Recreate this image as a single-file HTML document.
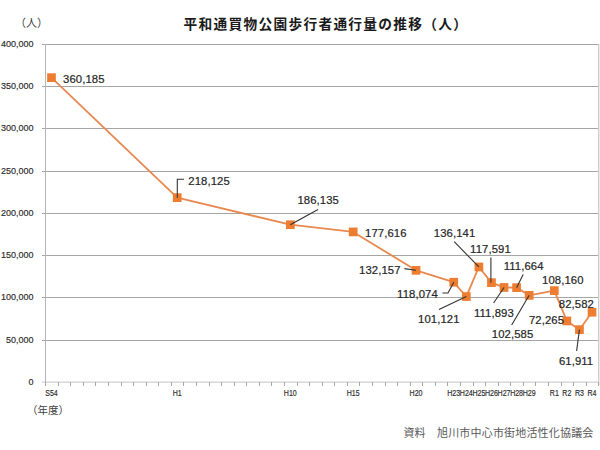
<!DOCTYPE html>
<html><head><meta charset="utf-8"><style>
html,body{margin:0;padding:0;background:#fff;}
body{width:600px;height:450px;overflow:hidden;position:relative;}
svg{position:absolute;left:0;top:0;}
.ln{fill:none;stroke:#E8884F;stroke-width:1.8;stroke-linejoin:round;}
.ld{fill:none;stroke:#333;stroke-width:1.1;}
.mk{fill:#ED7D31;}
text{font-family:"Liberation Sans","Noto Sans CJK JP",sans-serif;}
.yl{font-size:9px;fill:#2a2a2a;stroke:#2a2a2a;stroke-width:0.15px;text-anchor:end;}
.xl{font-size:8.2px;fill:#2a2a2a;stroke:#2a2a2a;stroke-width:0.15px;text-anchor:middle;}
.dl{font-size:11.3px;letter-spacing:0.1px;fill:#262626;stroke:#262626;stroke-width:0.2px;}
.t{position:absolute;white-space:nowrap;font-family:"Liberation Sans","Noto Sans CJK JP",sans-serif;}
#title{left:183.5px;top:13px;font-size:13.7px;font-weight:bold;color:#1a1a1a;letter-spacing:1.3px;}
#unit{left:15px;top:14px;font-size:11px;color:#404040;}
#nendo{left:27px;top:402px;font-size:10.5px;color:#404040;}
#src{left:403.5px;top:424px;font-size:11px;color:#595959;}
#src2{left:437px;top:424px;font-size:11px;letter-spacing:0.18px;color:#595959;}
</style></head><body>
<svg width="600" height="450" viewBox="0 0 600 450">
<rect x="42" y="44" width="557" height="1" fill="#a6a6a6"/>
<rect x="42" y="86" width="557" height="1" fill="#a6a6a6"/>
<rect x="42" y="128" width="557" height="1" fill="#a6a6a6"/>
<rect x="42" y="171" width="557" height="1" fill="#a6a6a6"/>
<rect x="42" y="213" width="557" height="1" fill="#a6a6a6"/>
<rect x="42" y="255" width="557" height="1" fill="#a6a6a6"/>
<rect x="42" y="297" width="557" height="1" fill="#a6a6a6"/>
<rect x="42" y="340" width="557" height="1" fill="#a6a6a6"/>
<rect x="42" y="381.6" width="557" height="1" fill="#c4c4c4"/>
<rect x="598" y="44" width="1" height="341" fill="#cccccc"/>
<rect x="599" y="44" width="1" height="341" fill="#ebebeb"/>
<rect x="45" y="44" width="1" height="339" fill="#b5b5b5"/>
<rect x="45" y="382" width="1" height="4" fill="#a8a8a8"/>
<rect x="58" y="382" width="1" height="4" fill="#a8a8a8"/>
<rect x="70" y="382" width="1" height="4" fill="#a8a8a8"/>
<rect x="83" y="382" width="1" height="4" fill="#a8a8a8"/>
<rect x="95" y="382" width="1" height="4" fill="#a8a8a8"/>
<rect x="108" y="382" width="1" height="4" fill="#a8a8a8"/>
<rect x="121" y="382" width="1" height="4" fill="#a8a8a8"/>
<rect x="133" y="382" width="1" height="4" fill="#a8a8a8"/>
<rect x="146" y="382" width="1" height="4" fill="#a8a8a8"/>
<rect x="158" y="382" width="1" height="4" fill="#a8a8a8"/>
<rect x="171" y="382" width="1" height="4" fill="#a8a8a8"/>
<rect x="183" y="382" width="1" height="4" fill="#a8a8a8"/>
<rect x="196" y="382" width="1" height="4" fill="#a8a8a8"/>
<rect x="209" y="382" width="1" height="4" fill="#a8a8a8"/>
<rect x="221" y="382" width="1" height="4" fill="#a8a8a8"/>
<rect x="234" y="382" width="1" height="4" fill="#a8a8a8"/>
<rect x="246" y="382" width="1" height="4" fill="#a8a8a8"/>
<rect x="259" y="382" width="1" height="4" fill="#a8a8a8"/>
<rect x="271" y="382" width="1" height="4" fill="#a8a8a8"/>
<rect x="284" y="382" width="1" height="4" fill="#a8a8a8"/>
<rect x="297" y="382" width="1" height="4" fill="#a8a8a8"/>
<rect x="309" y="382" width="1" height="4" fill="#a8a8a8"/>
<rect x="322" y="382" width="1" height="4" fill="#a8a8a8"/>
<rect x="334" y="382" width="1" height="4" fill="#a8a8a8"/>
<rect x="347" y="382" width="1" height="4" fill="#a8a8a8"/>
<rect x="359" y="382" width="1" height="4" fill="#a8a8a8"/>
<rect x="372" y="382" width="1" height="4" fill="#a8a8a8"/>
<rect x="385" y="382" width="1" height="4" fill="#a8a8a8"/>
<rect x="397" y="382" width="1" height="4" fill="#a8a8a8"/>
<rect x="410" y="382" width="1" height="4" fill="#a8a8a8"/>
<rect x="422" y="382" width="1" height="4" fill="#a8a8a8"/>
<rect x="435" y="382" width="1" height="4" fill="#a8a8a8"/>
<rect x="447" y="382" width="1" height="4" fill="#a8a8a8"/>
<rect x="460" y="382" width="1" height="4" fill="#a8a8a8"/>
<rect x="473" y="382" width="1" height="4" fill="#a8a8a8"/>
<rect x="485" y="382" width="1" height="4" fill="#a8a8a8"/>
<rect x="498" y="382" width="1" height="4" fill="#a8a8a8"/>
<rect x="510" y="382" width="1" height="4" fill="#a8a8a8"/>
<rect x="523" y="382" width="1" height="4" fill="#a8a8a8"/>
<rect x="535" y="382" width="1" height="4" fill="#a8a8a8"/>
<rect x="548" y="382" width="1" height="4" fill="#a8a8a8"/>
<rect x="561" y="382" width="1" height="4" fill="#a8a8a8"/>
<rect x="573" y="382" width="1" height="4" fill="#a8a8a8"/>
<rect x="586" y="382" width="1" height="4" fill="#a8a8a8"/>
<rect x="598" y="382" width="1" height="4" fill="#a8a8a8"/>
<text x="33.6" y="47.10" class="yl">400,000</text>
<text x="33.6" y="89.10" class="yl">350,000</text>
<text x="33.6" y="131.10" class="yl">300,000</text>
<text x="33.6" y="174.10" class="yl">250,000</text>
<text x="33.6" y="216.10" class="yl">200,000</text>
<text x="33.6" y="258.10" class="yl">150,000</text>
<text x="33.6" y="300.10" class="yl">100,000</text>
<text x="33.6" y="343.10" class="yl">50,000</text>
<text x="33.6" y="385.10" class="yl">0</text>
<text transform="translate(51.49,396.2) scale(0.86,1)" class="xl">S54</text>
<text transform="translate(177.19,396.2) scale(0.86,1)" class="xl">H1</text>
<text transform="translate(290.32,396.2) scale(0.86,1)" class="xl">H10</text>
<text transform="translate(353.18,396.2) scale(0.86,1)" class="xl">H15</text>
<text transform="translate(416.03,396.2) scale(0.86,1)" class="xl">H20</text>
<text transform="translate(453.74,396.2) scale(0.86,1)" class="xl">H23</text>
<text transform="translate(466.31,396.2) scale(0.86,1)" class="xl">H24</text>
<text transform="translate(478.88,396.2) scale(0.86,1)" class="xl">H25</text>
<text transform="translate(491.45,396.2) scale(0.86,1)" class="xl">H26</text>
<text transform="translate(504.02,396.2) scale(0.86,1)" class="xl">H27</text>
<text transform="translate(516.59,396.2) scale(0.86,1)" class="xl">H28</text>
<text transform="translate(529.16,396.2) scale(0.86,1)" class="xl">H29</text>
<text transform="translate(554.30,396.2) scale(0.86,1)" class="xl">R1</text>
<text transform="translate(566.87,396.2) scale(0.86,1)" class="xl">R2</text>
<text transform="translate(579.44,396.2) scale(0.86,1)" class="xl">R3</text>
<text transform="translate(592.01,396.2) scale(0.86,1)" class="xl">R4</text>
<polyline points="51.49,77.64 177.19,197.68 290.32,224.72 353.18,231.91 416.03,270.33 453.74,282.23 466.31,296.55 478.88,266.96 491.45,282.64 504.02,287.45 516.59,287.64 529.16,295.32 554.30,290.60 566.87,320.94 579.44,329.69 592.01,312.22" class="ln"/>
<rect x="47.14" y="73.29" width="8.7" height="8.7" class="mk"/>
<rect x="172.84" y="193.33" width="8.7" height="8.7" class="mk"/>
<rect x="285.97" y="220.37" width="8.7" height="8.7" class="mk"/>
<rect x="348.83" y="227.56" width="8.7" height="8.7" class="mk"/>
<rect x="411.68" y="265.98" width="8.7" height="8.7" class="mk"/>
<rect x="449.39" y="277.88" width="8.7" height="8.7" class="mk"/>
<rect x="461.96" y="292.20" width="8.7" height="8.7" class="mk"/>
<rect x="474.53" y="262.61" width="8.7" height="8.7" class="mk"/>
<rect x="487.10" y="278.29" width="8.7" height="8.7" class="mk"/>
<rect x="499.67" y="283.10" width="8.7" height="8.7" class="mk"/>
<rect x="512.24" y="283.29" width="8.7" height="8.7" class="mk"/>
<rect x="524.81" y="290.97" width="8.7" height="8.7" class="mk"/>
<rect x="549.95" y="286.25" width="8.7" height="8.7" class="mk"/>
<rect x="562.52" y="316.59" width="8.7" height="8.7" class="mk"/>
<rect x="575.09" y="325.34" width="8.7" height="8.7" class="mk"/>
<rect x="587.66" y="307.87" width="8.7" height="8.7" class="mk"/>
<polyline points="177.3,197.68 177.3,179.3 184,179.3" class="ld"/>
<polyline points="290.32,224.72 318,209.4" class="ld"/>
<polyline points="404.4,268.6 416.03,270.33" class="ld"/>
<polyline points="442.4,293 448,293 453.74,282.23" class="ld"/>
<polyline points="454.2,241.7 478.88,266.96" class="ld"/>
<polyline points="490.9,257.5 490.9,282.64" class="ld"/>
<polyline points="523.2,274.4 516.59,287.64" class="ld"/>
<polyline points="439,309.4 466.31,296.55" class="ld"/>
<polyline points="493.6,303 504.02,287.45" class="ld"/>
<polyline points="511.7,325 529.16,295.32" class="ld"/>
<polyline points="576.6,351 579.44,329.69" class="ld"/>
<text x="63.00" y="82.60" class="dl">360,185</text>
<text x="188.30" y="184.80" class="dl">218,125</text>
<text x="297.40" y="203.80" class="dl">186,135</text>
<text x="365.10" y="236.70" class="dl">177,616</text>
<text x="359.10" y="273.70" class="dl">132,157</text>
<text x="397.10" y="297.70" class="dl">118,074</text>
<text x="418.10" y="323.10" class="dl">101,121</text>
<text x="433.80" y="237.10" class="dl">136,141</text>
<text x="470.10" y="252.60" class="dl">117,591</text>
<text x="474.00" y="317.00" class="dl">111,893</text>
<text x="503.70" y="269.80" class="dl">111,664</text>
<text x="491.80" y="338.40" class="dl">102,585</text>
<text x="542.10" y="284.30" class="dl">108,160</text>
<text x="528.90" y="323.80" class="dl">72,265</text>
<text x="558.90" y="365.10" class="dl">61,911</text>
<text x="558.80" y="308.30" class="dl">82,582</text>
</svg>
<div class="t" id="title">平和通買物公園歩行者通行量の推移（人）</div>
<div class="t" id="unit">（人）</div>
<div class="t" id="nendo">（年度）</div>
<div class="t" id="src">資料</div>
<div class="t" id="src2">旭川市中心市街地活性化協議会</div>
</body></html>
